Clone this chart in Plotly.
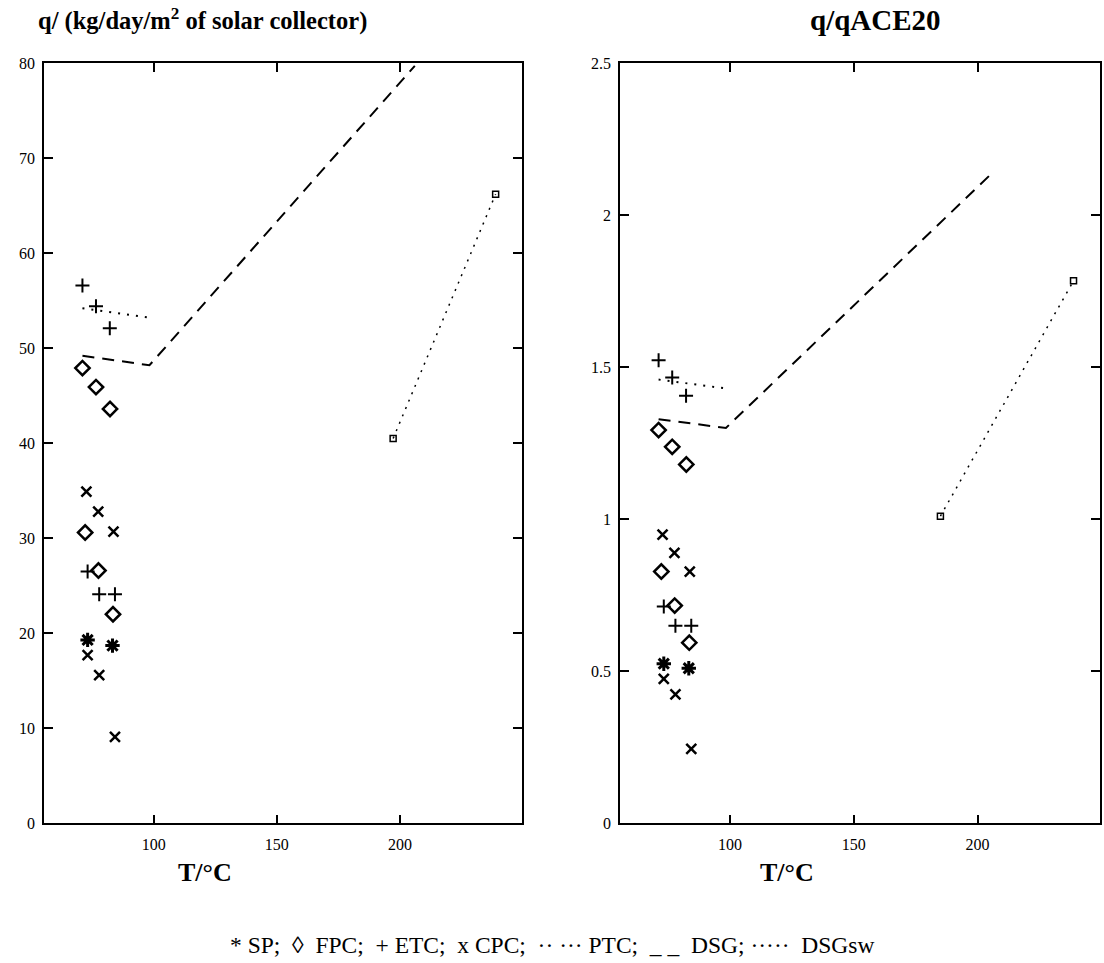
import plotly.graph_objects as go

# temperatures shared by both panels
sp_T = [73.2, 83.3]
fpc_T = [71.1, 76.6, 82.3, 72.2, 77.6, 83.5]
etc_T = [71.1, 76.6, 82.2, 73.2, 77.9, 84.3]
cpc_T = [72.7, 77.5, 83.7, 73.2, 77.9, 84.3]
ptc_T = [71.1, 98.3]
dsg_T = [71.1, 98.3, 206.0]

# ---- left panel: q / (kg/day/m2 of solar collector) ----
sp_q = [19.3, 18.7]
fpc_q = [47.9, 45.9, 43.6, 30.6, 26.6, 22.0]
etc_q = [56.6, 54.4, 52.1, 26.5, 24.1, 24.1]
cpc_q = [34.9, 32.8, 30.7, 17.7, 15.6, 9.1]
ptc_q = [54.2, 53.2]
dsg_q = [49.2, 48.2, 79.7]
dsgsw_T = [197.2, 238.8]
dsgsw_q = [40.5, 66.2]

# ---- right panel: q / q_ACE20 ----
sp_r = [0.525, 0.510]
fpc_r = [1.293, 1.238, 1.18, 0.828, 0.716, 0.594]
etc_r = [1.523, 1.466, 1.406, 0.713, 0.650, 0.650]
cpc_r = [0.949, 0.889, 0.828, 0.475, 0.424, 0.245]
ptc_r = [1.459, 1.430]
dsg_r = [1.329, 1.300, 2.139]
dsgsw_T_r = [185.0, 238.8]
dsgsw_r = [1.01, 1.784]

y_ticks_left = [0, 10, 20, 30, 40, 50, 60, 70, 80]
y_ticks_right = [0, 0.5, 1, 1.5, 2, 2.5]
x_ticks = [100, 150, 200]

SERIF = "Liberation Serif, Times New Roman, serif"
W, H = 1104, 963

fig = go.Figure()


def add_panel(xa, ya, sp, fpc, etc, cpc, ptc, dsg, sw_T, sw):
    kw = dict(xaxis=xa, yaxis=ya, showlegend=False)
    fig.add_trace(go.Scatter(x=ptc_T, y=ptc, mode="lines",
                             line=dict(color="black", width=2, dash="2px,7px"), **kw))
    fig.add_trace(go.Scatter(x=dsg_T, y=dsg, mode="lines",
                             line=dict(color="black", width=2, dash="12px,8px"), **kw))
    fig.add_trace(go.Scatter(x=sw_T, y=sw, mode="lines+markers",
                             line=dict(color="black", width=1.5, dash="2px,6px"),
                             marker=dict(symbol="square-open", size=6,
                                         color="black", line=dict(width=1.5)), **kw))
    fig.add_trace(go.Scatter(x=sp_T, y=sp, mode="markers",
                             marker=dict(symbol="asterisk-open", size=12, color="black",
                                         line=dict(color="black", width=3)), **kw))
    fig.add_trace(go.Scatter(x=fpc_T, y=fpc, mode="markers",
                             marker=dict(symbol="diamond-open", size=11, color="black",
                                         line=dict(color="black", width=2.5)), **kw))
    fig.add_trace(go.Scatter(x=etc_T, y=etc, mode="markers",
                             marker=dict(symbol="cross-thin-open", size=10, color="black",
                                         line=dict(color="black", width=2)), **kw))
    fig.add_trace(go.Scatter(x=cpc_T, y=cpc, mode="markers",
                             marker=dict(symbol="x-thin-open", size=10, color="black",
                                         line=dict(color="black", width=2.5)), **kw))


add_panel("x", "y", sp_q, fpc_q, etc_q, cpc_q, ptc_q, dsg_q, dsgsw_T, dsgsw_q)
add_panel("x2", "y2", sp_r, fpc_r, etc_r, cpc_r, ptc_r, dsg_r, dsgsw_T_r, dsgsw_r)

axis_common = dict(showline=True, linecolor="black", linewidth=1.5, mirror="ticks",
                   ticks="inside", ticklen=9, tickwidth=1.5, tickcolor="black",
                   showgrid=False, zeroline=False,
                   tickfont=dict(family=SERIF, size=16, color="black"))

ytop = 1 - 56 / H
ybot = 1 - 830 / H
x_range = [55.5, 249.5]

fig.update_layout(
    width=W, height=H,
    paper_bgcolor="white", plot_bgcolor="white",
    margin=dict(l=0, r=0, t=0, b=0),
    xaxis=dict(domain=[44 / W, 522 / W], range=x_range, tickvals=x_ticks,
               anchor="y", ticklabelstandoff=6, **axis_common),
    yaxis=dict(domain=[ybot, ytop], range=[0, 80], tickvals=y_ticks_left,
               anchor="x", ticklabelstandoff=4, **axis_common),
    xaxis2=dict(domain=[620 / W, 1100 / W], range=x_range, tickvals=x_ticks,
                anchor="y2", ticklabelstandoff=6, **axis_common),
    yaxis2=dict(domain=[ybot, ytop], range=[0, 2.5], tickvals=y_ticks_right,
                anchor="x2", ticklabelstandoff=4, **axis_common),
)

annots = [
    dict(x=202, y=12, text="<b>q/ (kg/day/m<sup>2</sup> of solar collector)</b>", size=24.5),
    dict(x=875, y=12, text="<b>q/qACE20</b>", size=29),
    dict(x=205, y=880, text="<b>T/°C</b>", size=26),
    dict(x=787, y=880, text="<b>T/°C</b>", size=26),
    dict(x=552, y=954,
         text="* SP;  ◊  FPC;  + ETC;  x CPC;  ·· ··· PTC;  _ _  DSG; ·····  DSGsw",
         size=23.5),
]
for a in annots:
    fig.add_annotation(x=a["x"] / W, y=1 - a["y"] / H, xref="paper", yref="paper",
                       text=a["text"], showarrow=False, xanchor="center", yanchor="middle",
                       font=dict(family=SERIF, size=a["size"], color="black"))

fig.write_html("out.html", config={"displayModeBar": False},
               post_script="document.body.style.margin='0';")
